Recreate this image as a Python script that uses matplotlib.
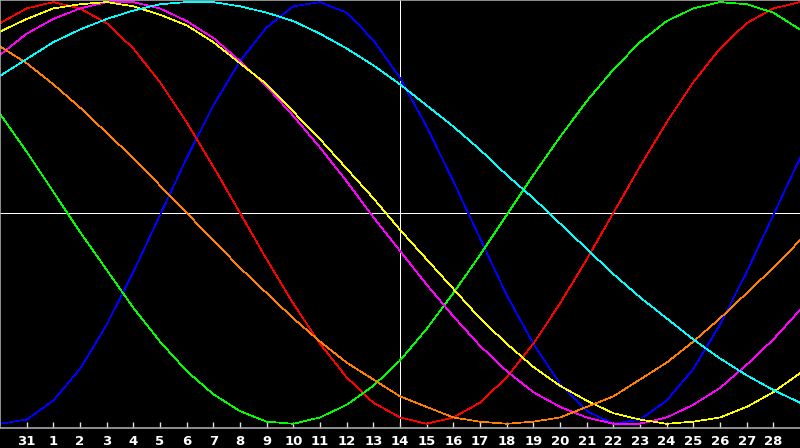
import matplotlib
matplotlib.use("Agg")
import matplotlib.pyplot as plt

# day labels along the bottom (position 1..29), curves sampled at positions 0..30
day_labels = ["31"] + [str(d) for d in range(1, 29)]
positions = list(range(31))

physical = [-100, -98, -89, -74, -53, -28, -1, 26, 51, 72, 88, 98, 100, 95, 82, 64,
            41, 15, -12, -39, -62, -81, -94, -100, -98, -89, -74, -53, -28, -1, 26]
emotional = [90, 97, 100, 97, 90, 78, 62, 43, 22, 0, -22, -43, -62, -78, -90, -97,
             -100, -97, -90, -78, -62, -43, -22, 0, 22, 43, 62, 78, 90, 97, 100]
intellectual = [47, 29, 10, -9, -27, -45, -61, -75, -86, -94, -99, -100, -97, -91, -82, -70,
                -55, -38, -20, -1, 18, 36, 53, 68, 81, 91, 97, 100, 99, 95, 87]
intuitive = [75, 85, 92, 97, 100, 100, 97, 91, 83, 72, 60, 46, 31, 15, -2, -18,
             -34, -49, -63, -75, -85, -92, -97, -100, -100, -97, -91, -83, -72, -60, -46]
aesthetic = [86, 92, 97, 99, 100, 98, 94, 89, 81, 71, 61, 48, 35, 21, 7, -8,
             -22, -36, -50, -62, -73, -82, -89, -95, -98, -100, -99, -97, -92, -85, -76]
awareness = [79, 71, 61, 50, 38, 26, 13, 0, -13, -26, -38, -50, -61, -71, -79, -87,
             -92, -97, -99, -100, -99, -97, -92, -87, -79, -71, -61, -50, -38, -26, -13]
spiritual = [65, 73, 81, 87, 92, 96, 99, 100, 100, 98, 95, 91, 85, 78, 70, 61,
             51, 41, 30, 18, 7, -5, -17, -29, -40, -50, -60, -69, -77, -84, -90]

series = [
    (physical, "#0000FF"),
    (emotional, "#FF0000"),
    (intellectual, "#00FF00"),
    (intuitive, "#FF00FF"),
    (aesthetic, "#FFFF00"),
    (awareness, "#FF8000"),
    (spiritual, "#00FFFF"),
]

fig = plt.figure(figsize=(8, 4.48), dpi=100, facecolor="black")
ax = fig.add_axes([0, 20 / 448, 1, 428 / 448])
ax.set_facecolor("black")

# crosshair at today
ax.axhline(0, color="white", lw=0.5, zorder=1, antialiased=False)
ax.axvline(15, color="white", lw=0.5, zorder=1, antialiased=False)

for vals, col in series:
    ax.plot(positions, vals, color=col, lw=0.5, zorder=2, antialiased=False)

ax.set_xlim(0, 30)
ax.set_ylim(-102, 101)
ax.set_xticks(range(1, 30))
ax.set_xticklabels(day_labels, color="white", fontsize=9.5, fontweight="bold")
ax.tick_params(axis="x", direction="in", length=4, width=1, color="#E0E0E0", pad=5)
ax.set_yticks([])

for side in ["top", "left", "bottom"]:
    ax.spines[side].set_color("#A8A8A8")
    ax.spines[side].set_linewidth(1.2)
ax.spines["right"].set_visible(False)

fig.savefig("out.png", dpi=100, facecolor="black")
